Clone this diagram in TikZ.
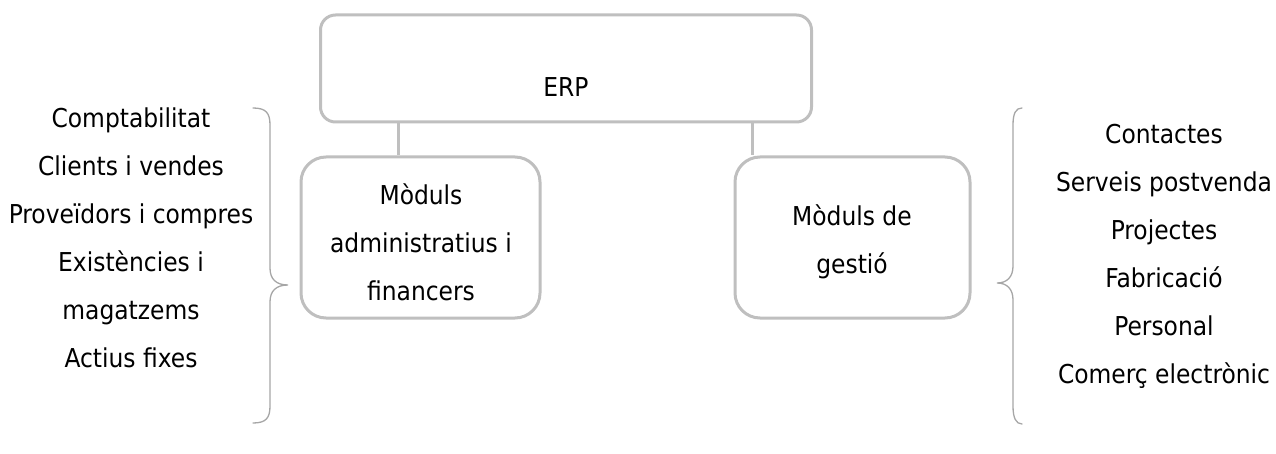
\documentclass[tikz,border=0pt]{standalone}
\usepackage{fontspec}
\setmainfont{DejaVu Sans Condensed}
\definecolor{boxgray}{HTML}{BFBFBF}
\definecolor{bracegray}{HTML}{A6A6A6}
\tikzset{
  box/.style={draw=boxgray, line width=3pt, rectangle, inner sep=0pt},
  conn/.style={draw=boxgray, line width=3pt},
  brc/.style={draw=bracegray, line width=1.3pt, line cap=round},
  txt/.style={align=center, inner sep=0pt, font=\fontsize{26}{48}\selectfont}
}
\begin{document}
\begin{tikzpicture}[x=1pt,y=-1pt]
\useasboundingbox (0,0) rectangle (1276,454);
% boxes
\node[box, rounded corners=15pt, minimum width=491pt, minimum height=107pt] (erp) at (566,68.5) {};
\node[txt] (erpt) at (566,87) {ERP};
\node[box, rounded corners=25pt, minimum width=239pt, minimum height=161pt] (adm) at (420.5,237.5) {};
\node[box, rounded corners=25pt, minimum width=235pt, minimum height=161pt] (ges) at (852.5,237.5) {};
\node[txt] (admt) at (421,242) {Mòduls\\administratius i\\financers};
\node[txt] (gest) at (852,242) {Mòduls de\\gestió};
% connectors
\coordinate (c1) at (398,122);
\coordinate (c2) at (752,122);
\draw[conn] (c1) -- (c1 |- adm.north);
\draw[conn] (c2) -- (c2 |- ges.north);
% lists
\node[txt] (left) at (131,238) {Comptabilitat\\Clients i vendes\\Proveïdors i compres\\Existències i\\magatzems\\Actius fixes};
\node[txt] (right) at (1164,256) {Contactes\\Serveis postvenda\\Projectes\\Fabricació\\Personal\\Comerç electrònic};
% braces
\draw[brc] (253,108) .. controls (266,108) and (270,113) .. (270,125)
  -- (270,268) .. controls (270,279) and (276,285) .. (288,285)
  .. controls (276,285) and (270,291) .. (270,302)
  -- (270,406) .. controls (270,418) and (266,423) .. (253,423);
\draw[brc] (1022,108) .. controls (1016,108) and (1013,113) .. (1013,125)
  -- (1013,266) .. controls (1013,277) and (1007,283) .. (997,283)
  .. controls (1007,283) and (1013,289) .. (1013,300)
  -- (1013,406) .. controls (1013,418) and (1016,424) .. (1022,424);
\end{tikzpicture}
\end{document}
